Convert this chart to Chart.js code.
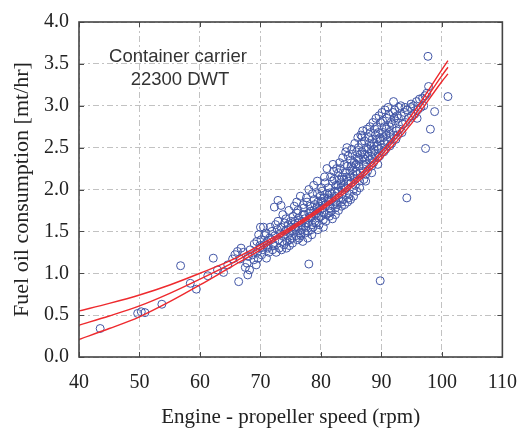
<!DOCTYPE html>
<html>
<head>
<meta charset="utf-8">
<script src="https://cdn.jsdelivr.net/npm/chart.js@4.4.1/dist/chart.umd.min.js"></script>
<style>
html,body{margin:0;padding:0;background:#fff;}
#c{display:block;}
</style>
</head>
<body>
<canvas id="c" width="531" height="430"></canvas>
<script>
// ---- Data ----
const xTicks = [40, 50, 60, 70, 80, 90, 100, 110];
const yTicks = [0.0, 0.5, 1.0, 1.5, 2.0, 2.5, 3.0, 3.5, 4.0];

const fitSpeed = [40, 45, 50, 55, 60, 65, 70, 75, 80, 85, 90, 95, 100, 101];
const fitMean  = [0.38, 0.49, 0.61, 0.76, 0.93, 1.11, 1.31, 1.53, 1.77, 2.05, 2.41, 2.84, 3.36, 3.46];
const fitUpper = [0.55, 0.64, 0.74, 0.86, 1.00, 1.15, 1.34, 1.55, 1.79, 2.08, 2.45, 2.89, 3.43, 3.54];
const fitLower = [0.21, 0.34, 0.48, 0.66, 0.86, 1.07, 1.28, 1.51, 1.75, 2.02, 2.37, 2.79, 3.29, 3.38];

// measured points [engine speed rpm, fuel oil consumption mt/hr]
const measured = [
[43.5,0.34],[49.7,0.52],[50.3,0.54],[50.9,0.53],[53.7,0.63],[56.8,1.09],[58.4,0.88],[59.4,0.81],[61.3,0.97],[62.2,1.18],[62.9,1.04],[63.9,1.01],[64.6,1.10],[65.4,1.17],[65.8,1.22],[66.2,1.26],[66.4,0.90],[66.8,1.30],[66.6,1.17],[67.2,1.25],[67.5,1.07],[67.8,1.12],[68.0,1.20],[67.9,0.98],[68.2,1.04],[68.3,1.28],
[68.9,1.16],[69.0,1.35],[68.7,1.22],[69.4,1.38],[69.3,1.10],[69.5,1.25],[69.7,1.46],[69.9,1.30],[69.6,1.18],[70.0,1.55],[70.1,1.40],[70.2,1.22],[69.9,1.33],[70.5,1.55],[70.6,1.34],[70.4,1.28],[70.7,1.45],[71.0,1.18],[71.1,1.38],[70.9,1.48],[71.2,1.30],[71.3,1.32],[71.5,1.42],[71.4,1.25],[71.6,1.55],[71.8,1.40],[72.0,1.28],[71.9,1.50],[72.1,1.35],
[72.3,1.79],[72.4,1.45],[72.2,1.33],[72.5,1.58],[72.6,1.25],[72.9,1.87],[73.0,1.40],[72.8,1.52],[73.1,1.30],[72.9,1.62],[73.4,1.81],[73.5,1.28],[73.3,1.48],[73.6,1.38],[73.4,1.55],[73.8,1.44],[74.0,1.60],[73.9,1.34],[73.7,1.70],[74.1,1.50],
[74.3,1.52],[74.4,1.38],[74.2,1.65],[74.5,1.45],[74.3,1.30],[74.6,1.58],[74.8,1.48],[75.0,1.62],[74.9,1.40],[74.7,1.75],[75.1,1.55],[74.8,1.33],[75.3,1.50],[75.4,1.68],[75.2,1.42],[75.5,1.58],[75.3,1.36],[75.6,1.80],
[75.8,1.55],[76.0,1.72],[75.9,1.45],[75.7,1.62],[76.1,1.40],[75.8,1.52],[76.0,1.85],[76.3,1.60],[76.5,1.48],[76.2,1.75],[76.4,1.42],[76.3,1.66],[76.6,1.92],[76.2,1.55],[76.8,1.52],[77.0,1.70],[76.9,1.62],[76.7,1.45],[77.1,1.82],[76.8,1.58],[77.0,1.38],
[77.3,1.65],[77.5,1.55],[77.2,1.78],[77.4,1.48],[77.6,1.90],[77.3,1.70],[77.5,1.60],[77.8,1.60],[78.0,1.72],[77.9,1.50],[77.7,1.85],[78.1,1.66],[77.8,1.42],[78.0,2.00],[78.0,1.11],
[78.3,1.68],[78.5,1.58],[78.2,1.80],[78.4,1.52],[78.6,1.95],[78.3,1.74],[78.5,1.46],[78.8,1.75],[79.0,1.62],[78.9,1.88],[78.7,1.55],[79.1,1.70],[78.8,2.05],[79.0,1.82],
[79.3,1.72],[79.5,1.85],[79.2,1.60],[79.4,1.95],[79.6,1.66],[79.3,1.78],[79.5,1.52],[79.4,2.10],[79.8,1.80],[80.0,1.68],[79.9,1.92],[79.7,1.58],[80.1,2.02],[79.8,1.75],[80.0,1.86],
[80.3,1.85],[80.5,1.72],[80.2,1.98],[80.4,1.64],[80.6,2.15],[80.3,1.78],[80.5,1.90],[80.4,1.55],[80.8,1.82],[81.0,1.95],[80.9,1.70],[80.7,2.08],[81.1,1.88],[80.8,1.62],[81.0,2.25],
[81.3,1.90],[81.5,1.78],[81.2,2.02],[81.4,1.68],[81.6,2.15],[81.3,1.85],[81.5,1.96],[81.4,1.72],[81.8,1.95],[82.0,1.82],[81.9,2.10],[81.7,1.74],[82.1,2.22],[81.8,1.88],[82.0,2.30],[81.9,1.65],
[82.3,1.98],[82.5,1.85],[82.2,2.12],[82.4,1.78],[82.6,2.25],[82.3,1.92],[82.5,2.05],[82.4,1.70],[82.8,2.05],[83.0,1.90],[82.9,2.20],[82.7,1.82],[83.1,2.32],[82.8,1.98],[83.0,2.12],[82.9,1.75],
[83.3,2.08],[83.5,1.95],[83.2,2.25],[83.4,1.85],[83.6,2.38],[83.3,2.02],[83.5,2.15],[83.4,1.80],[83.8,2.12],[84.0,2.00],[83.9,2.30],[83.7,1.88],[84.1,2.45],[83.8,2.05],[84.0,2.20],[83.9,1.82],
[84.3,2.15],[84.5,2.40],[84.2,2.02],[84.4,2.28],[84.6,1.90],[84.3,2.50],[84.5,2.10],[84.4,1.85],[84.8,2.22],[85.0,2.08],[84.9,2.35],[84.7,1.95],[85.1,2.48],[84.8,2.15],[85.0,2.28],[84.9,1.88],
[85.3,2.25],[85.5,2.12],[85.2,2.42],[85.4,2.00],[85.6,2.55],[85.3,2.18],[85.5,2.32],[85.4,1.92],[85.8,2.30],[86.0,2.18],[85.9,2.45],[85.7,2.05],[86.1,2.62],[85.8,2.22],[86.0,2.38],[85.9,1.98],
[86.3,2.35],[86.5,2.20],[86.2,2.50],[86.4,2.10],[86.6,2.65],[86.3,2.28],[86.5,2.42],[86.4,2.02],[86.8,2.63],[87.0,2.38],[86.9,2.25],[86.7,2.55],[87.1,2.12],[86.8,2.45],[87.0,2.30],[86.9,2.70],
[87.3,2.42],[87.5,2.30],[87.2,2.58],[87.4,2.18],[87.6,2.72],[87.3,2.36],[87.5,2.50],[87.4,2.10],[87.8,2.48],[88.0,2.35],[87.9,2.62],[87.7,2.22],[88.1,2.75],[87.8,2.40],[88.0,2.55],
[88.3,2.52],[88.5,2.38],[88.2,2.68],[88.4,2.28],[88.6,2.80],[88.3,2.45],[88.5,2.60],[88.4,2.20],[88.8,2.55],[89.0,2.42],[88.9,2.72],[88.7,2.32],[89.1,2.85],[88.8,2.48],[89.0,2.65],
[89.3,2.60],[89.5,2.48],[89.2,2.75],[89.4,2.38],[89.6,2.88],[89.3,2.52],[89.5,2.68],[89.4,2.30],[89.8,2.62],[90.0,2.50],[89.9,2.80],[89.7,2.40],[90.1,2.92],[89.8,2.58],[89.8,0.91],
[90.3,2.68],[90.5,2.55],[90.2,2.82],[90.4,2.45],[90.6,2.95],[90.3,2.62],[90.5,2.75],[90.8,2.72],[91.0,2.58],[90.9,2.85],[90.7,2.48],[91.1,2.98],[90.8,2.65],
[91.3,2.75],[91.5,2.62],[91.2,2.90],[91.4,2.52],[91.6,2.80],[91.3,2.68],[91.8,2.78],[92.0,2.65],[91.9,2.92],[91.7,2.55],[92.1,2.85],[92.0,3.05],
[92.3,2.82],[92.5,2.70],[92.2,2.95],[92.4,2.60],[92.6,2.88],[92.8,2.85],[93.0,2.72],[92.9,2.98],[92.7,2.65],[93.3,2.88],[93.5,2.78],[93.2,3.00],[93.4,2.68],[93.8,2.92],[94.0,2.80],[93.9,2.98],[94.2,1.90],[94.3,2.95],[94.5,2.85],[94.8,2.98],[95.0,2.88],[94.9,3.02],[95.3,3.00],[95.5,2.90],[95.8,3.05],[96.0,2.95],[95.9,2.85],[96.3,3.08],[96.5,2.98],[96.8,3.09],[97.0,3.00],[97.3,2.49],[97.2,3.12],[97.7,3.59],[97.8,3.23],[97.5,3.15],[98.1,2.72],[98.8,2.93],[101.0,3.11]
];

const noteLines = ['Container carrier', '22300 DWT'];
const xTitle = 'Engine - propeller speed (rpm)';
const yTitle = 'Fuel oil consumption [mt/hr]';

// ---- Build datasets ----
const toXY = (xs, ys) => xs.map((x, i) => ({x: x, y: ys[i]}));
const pts = measured.map(p => ({x: p[0], y: p[1]}));

const RED = '#ee2a2e';
const lineDs = (label, ys) => ({
  type: 'line', label: label, data: toXY(fitSpeed, ys),
  borderColor: RED, borderWidth: 1.4, pointRadius: 0, fill: false,
  cubicInterpolationMode: 'monotone', order: 0
});

const frameTicks = {
  id: 'frameTicks',
  afterDraw(chart) {
    const ctx = chart.ctx, a = chart.chartArea;
    const xs = chart.scales.x, ys = chart.scales.y;
    ctx.save();
    ctx.strokeStyle = '#4a4a4a';
    ctx.lineWidth = 1;
    const L = 5;
    ctx.beginPath();
    xTicks.forEach(v => {
      const px = Math.round(xs.getPixelForValue(v)) + 0.5;
      ctx.moveTo(px, a.bottom); ctx.lineTo(px, a.bottom - L);
      ctx.moveTo(px, a.top); ctx.lineTo(px, a.top + L);
    });
    yTicks.forEach(v => {
      const py = Math.round(ys.getPixelForValue(v)) + 0.5;
      ctx.moveTo(a.left, py); ctx.lineTo(a.left + L, py);
      ctx.moveTo(a.right, py); ctx.lineTo(a.right - L, py);
    });
    ctx.stroke();
    ctx.lineWidth = 1.6;
    ctx.strokeStyle = '#444';
    ctx.strokeRect(a.left, a.top, a.right - a.left, a.bottom - a.top);
    // annotation
    ctx.fillStyle = '#333';
    ctx.font = '18.5px "Liberation Sans", Arial, sans-serif';
    ctx.textAlign = 'center';
    ctx.textBaseline = 'middle';
    ctx.fillText(noteLines[0], a.left + 99, a.top + 35);
    ctx.fillText(noteLines[1], a.left + 101, a.top + 58);
    ctx.restore();
  }
};

const serif = '"Liberation Serif", "Times New Roman", serif';

new Chart(document.getElementById('c'), {
  type: 'scatter',
  data: {
    datasets: [
      lineDs('upper', fitUpper),
      lineDs('fit', fitMean),
      lineDs('lower', fitLower),
      {
        type: 'scatter', label: 'measured', data: pts,
        pointStyle: 'circle', pointRadius: 4, borderWidth: 1,
        borderColor: '#4256a6', backgroundColor: 'rgba(0,0,0,0)', order: 1
      }
    ]
  },
  options: {
    responsive: false,
    animation: false,
    layout: {padding: {top: 22, right: 17, left: 0, bottom: 0}},
    plugins: {legend: {display: false}, tooltip: {enabled: false}},
    scales: {
      x: {
        type: 'linear', min: 40, max: 110,
        afterBuildTicks: s => { s.ticks = xTicks.map(v => ({value: v})); },
        afterFit: s => { s.height = 73; },
        grid: {color: '#c2c2c2', lineWidth: 1, drawTicks: false},
        border: {display: false, dash: [6, 3, 2, 3]},
        ticks: {padding: 14, color: '#222', font: {family: serif, size: 20}},
        title: {display: true, text: xTitle, color: '#222', font: {family: serif, size: 21}, padding: {top: 0, bottom: 0}}
      },
      y: {
        type: 'linear', min: 0, max: 4,
        afterBuildTicks: s => { s.ticks = yTicks.map(v => ({value: v})); },
        afterFit: s => { s.width = 79; },
        grid: {color: '#c2c2c2', lineWidth: 1, drawTicks: false},
        border: {display: false, dash: [6, 3, 2, 3]},
        ticks: {padding: 10, color: '#222', font: {family: serif, size: 20}, callback: v => Number(v).toFixed(1)},
        title: {display: true, text: yTitle, color: '#222', font: {family: serif, size: 22}, padding: {top: 9, bottom: 0}}
      }
    }
  },
  plugins: [frameTicks]
});
</script>
</body>
</html>
